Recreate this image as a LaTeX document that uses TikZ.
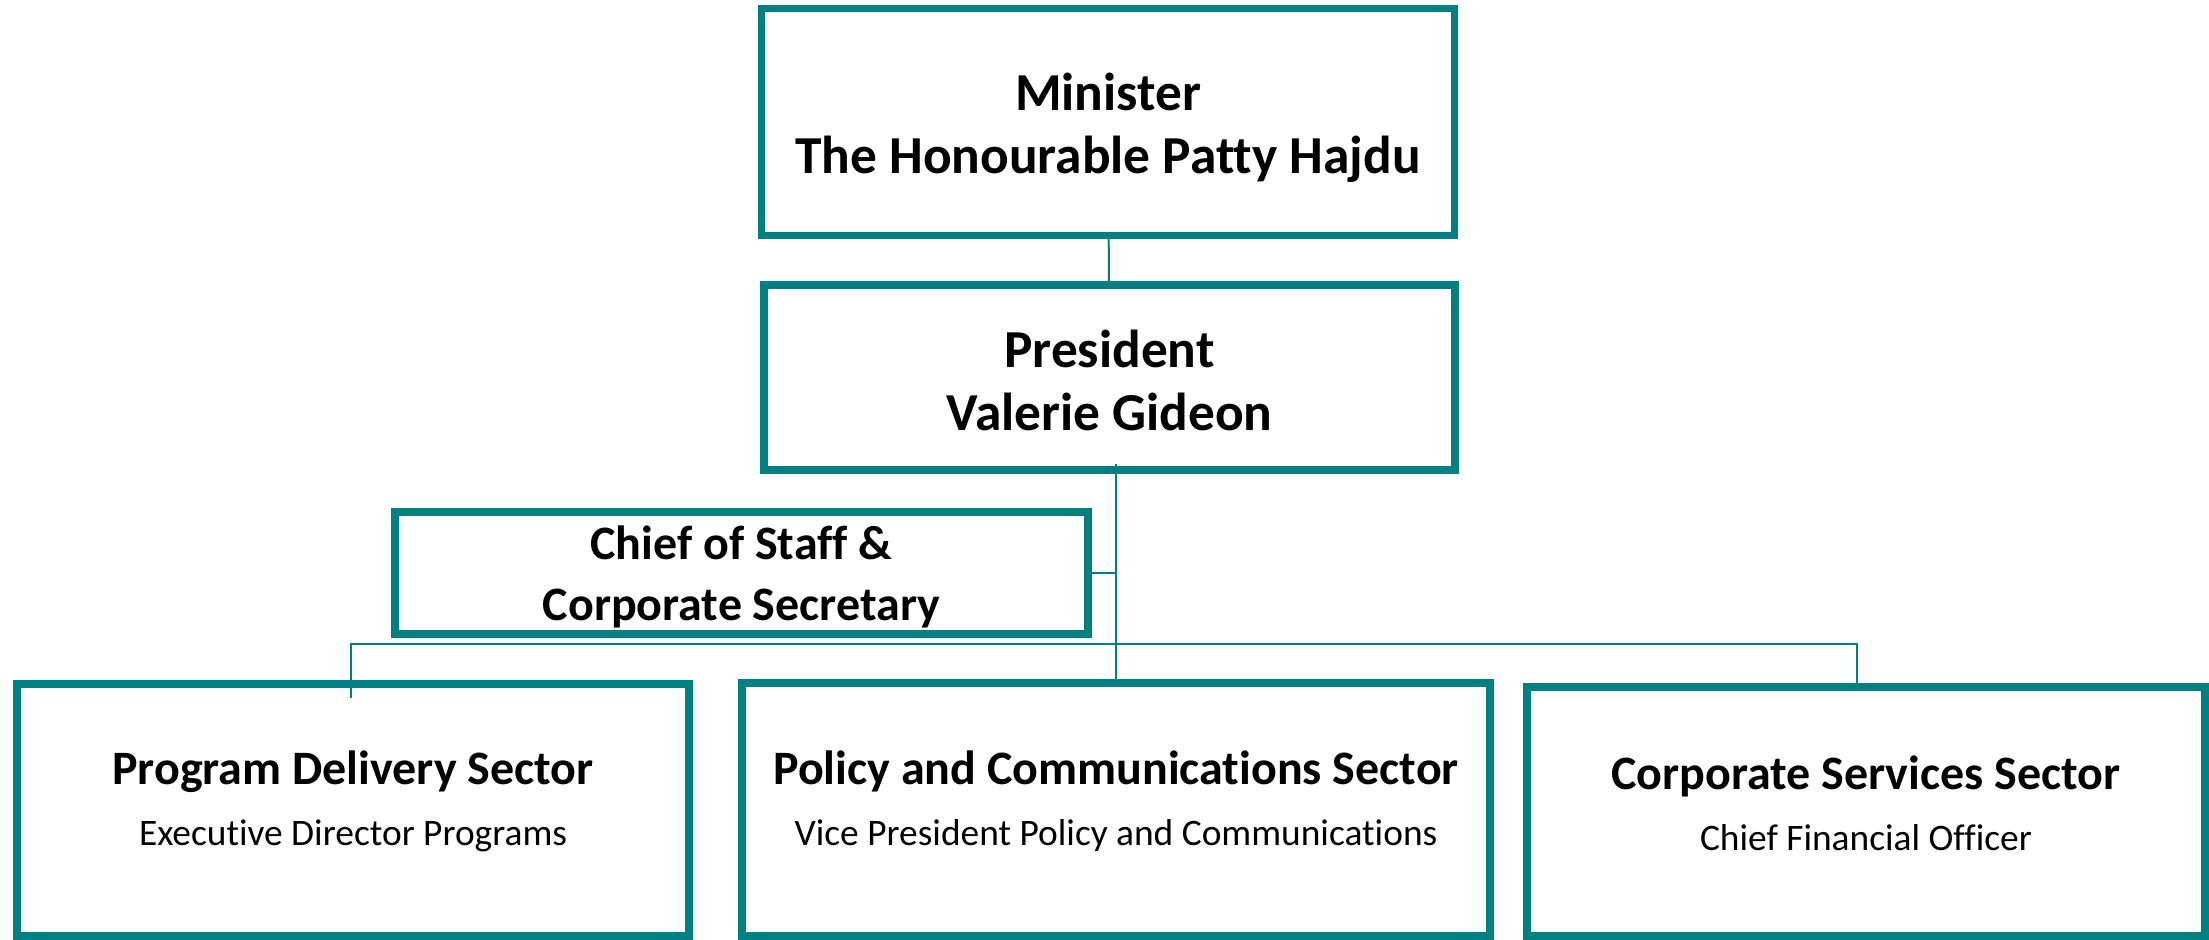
\documentclass[tikz,border=0pt]{standalone}
\usepackage{fontspec}
\setmainfont{Carlito}[Ligatures=NoCommon]
\usepackage{tikz}
\usetikzlibrary{positioning, calc}
\definecolor{orgteal}{RGB}{0,128,128}

\newcommand{\rolefont}{\mdseries\fontsize{18.7}{22}\selectfont}

\begin{document}
\begin{tikzpicture}[
        x=0.5pt, y=-0.5pt,
        unit/.style={rectangle, draw=orgteal, line width=3.6pt, align=center, text centered},
        head/.style={unit, font=\bfseries\fontsize{26.7}{31.5}\selectfont, text depth=0pt},
        office/.style={unit, font=\bfseries\fontsize{24}{30.5}\selectfont},
        link/.style={draw=orgteal, line width=1pt}
    ]
    \useasboundingbox (0,0) rectangle (2209,940);

    % --- NODES ---
    \node (minister) [head, minimum width=346.5pt, minimum height=113.5pt, text height=51.3pt] at (1108,122)
        {Minister\\The Honourable Patty Hajdu};
    \node (president) [head, minimum width=345.5pt, minimum height=92.5pt, text height=52.9pt] at (1109.5,377.5)
        {President\\Valerie Gideon};
    \node (chief) [office, minimum width=346.5pt, minimum height=61pt, text depth=0.3pt] at (741.5,573)
        {Chief of Staff \&\\Corporate Secretary};

    % sectors
    \node (program) [office, minimum width=336pt, minimum height=126pt, text depth=11.7pt] at (353,810)
        {Program Delivery Sector\\[0pt]{\rolefont Executive Director Programs}};
    \node (policy) [office, minimum width=374pt, minimum height=126.5pt, text depth=11pt] at (1116,809.5)
        {Policy and Communications Sector\\[0pt]{\rolefont Vice President Policy and Communications}};
    \node (corpserv) [office, minimum width=339pt, minimum height=124.5pt, text depth=8.5pt] at (1866,811.5)
        {Corporate Services Sector\\[0pt]{\rolefont Chief Financial Officer}};

    \coordinate (busL) at (351,644);
    \coordinate (busR) at (1857,644);

    % --- LINES ---
    \draw [link] (minister) -- (president);
    \draw [link] ([yshift=5pt]president.south -| policy.north) -- ([yshift=-3pt]policy.north);
    \draw [link] (chief.east) -- (chief.east -| policy.north);
    \draw [link] ([yshift=-9pt]program.north -| busL) -- (busL) -- (busR) -- (busR |- corpserv.north);

\end{tikzpicture}
\end{document}
